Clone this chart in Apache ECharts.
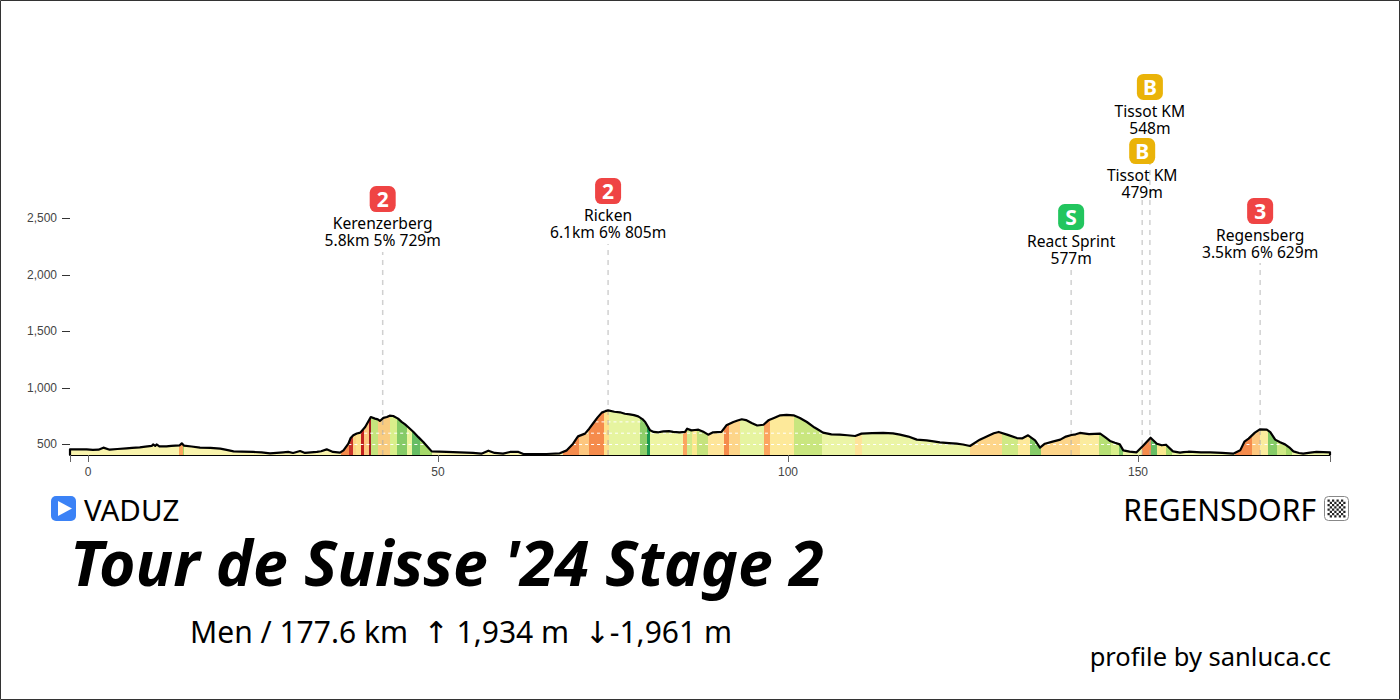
<!DOCTYPE html>
<html><head><meta charset="utf-8">
<style>html,body{margin:0;padding:0;background:#fff}#c{width:1400px;height:700px}</style>
<script src="https://cdn.jsdelivr.net/npm/echarts@6/dist/echarts.min.js"></script>
</head><body><div id="c"></div>
<script>
const profileKm = [-2.57,-2.57,-0.2,1.5,2.2,3.1,5.5,7.4,9.1,9.3,9.6,9.8,10.2,11.2,13.1,13.4,13.7,16,18.9,20.8,23.6,26,27.9,29.3,30.3,31,32.7,34.1,35,36,36.5,37.2,37.9,38.9,39.6,40,40.4,41,41.7,42.7,43.6,44.3,45.3,46.5,47.9,49.1,51.2,53.1,55,56.2,57.2,58.1,59.3,60.3,61.5,62.2,65.5,67.4,68.4,69.3,70,71,72.2,73.4,74.3,76,77.4,78.6,79.6,80.3,80.8,82.2,83.6,85.3,85.6,86.2,87.2,88.6,89.3,90.5,91.2,92.2,93.4,94.8,96.5,97.2,98.9,100.8,102.7,105,107.4,109.6,110.5,113.6,116,118.4,119.8,121.7,124.1,126,127.4,130.1,132.7,134.3,135.3,136,136.7,138.9,140.5,141.7,144.6,146,147.4,147.9,149.8,150.8,151.8,152.7,153.4,154,155,156,157.2,160.3,163.6,164.6,165.8,166.7,167.4,168.4,169.6,171,172.2,173.6,175.5,177.43,177.43];
const profileAlt = [407,457,457,454,472,454,466,475,487,501,487,501,484,484,493,510,490,472,463,439,434,422,431,425,442,425,434,457,434,428,448,507,581,605,655,699,743,729,708,743,752,729,678,611,522,439,434,431,425,419,445,425,419,434,434,416,416,422,448,507,572,596,690,782,802,785,767,749,699,625,611,616,611,611,640,625,631,587,608,611,670,699,723,690,675,714,758,758,699,605,587,575,596,602,587,543,537,519,507,487,543,611,557,581,537,472,507,543,584,602,596,531,501,448,431,493,560,507,493,498,439,428,436,431,419,448,552,605,634,631,543,501,439,419,434,431,407];
const detailKm = [0.7,4.2,6.3,8.2,11.9,14.8,17.5,19.8,22,24.8,28.6,33.3,37.5,38.4,41.4,42.2,43.1,44.8,45.8,47.2,48.5,69.7,71.6,72.8,73.9,75.2,76.7,78,79.2,81.5,83,84.5,86.7,88,92.8,94,95.6,98,99.8,101.7,103.8,104.4,106.2,108.5,112,115,117.2,120.8,123,125,128.7,129.4,131.4,133.5,137.8,139.7,141.1,143,145.3,146.7,148.8,156.5,159,162,165.2,168.9,170.3,171.6,173,174.6];
const detailAlt = [452,460,470,481,487,482,470,452,437,430,435,440,555,597,722,735,755,700,650,565,480,545,640,740,795,790,772,760,725,608,618,608,628,610,712,716,668,735,762,735,650,628,590,582,600,598,570,528,512,500,580,600,585,555,525,570,590,592,565,515,437,432,430,425,525,610,520,475,425,428];
const segmentEndKm = [13,13.5,13.7,36.1,37.3,37.8,38.3,39,39.4,40.1,40.4,41.5,43.1,44.1,45.6,46.3,47.4,49.1,67.9,70.1,71.6,73.7,74.4,78.9,79.9,80.3,85,85.6,86.3,87,88.6,90.8,91.6,93.2,96.5,97.4,100.8,104.8,109.6,110.5,126,130.5,132.9,134.6,136.1,141.7,144.4,146.1,147.3,147.9,150.5,151.8,152.7,154,154.8,163.9,166.3,167.4,168.6,169.9,171.2,172,177.43];
const segmentColors = ['#f9f4ad','#fca55d','#a6d96a','#f9f4ad','#f58b4c','#c8342a','#fdd385','#fee08b','#c2201f','#fdc77f','#a81c20','#c5e37d','#f9cc80','#d9ef8b','#85cb67','#eaf59b','#66bd63','#a6d96a','#f9f4ad','#f58b4c','#fdc77f','#f58b4c','#fee08b','#e6f4a0','#8fce6a','#1a9850','#eef5a3','#fba55f','#d2ea8a','#fbe88f','#c5e37d','#fee59a','#f58b4c','#fdd58a','#e6f4a0','#fba55f','#fde99a','#c9e67f','#ebf5a6','#fde39a','#ebf5a6','#fdd58a','#cfe985','#fde99a','#85cb67','#fdd58a','#fbec9e','#b7e075','#d9ef8b','#7fc866','#eef6a6','#f58b4c','#66bd63','#fbe88f','#a6d96a','#eef6a6','#f58b4c','#fdc77f','#fbec9e','#85cb67','#cfe985','#a6d96a','#eef6a6'];
const dashLevels = [500,500,500,500,600,600,700];
const dashFromKm = [37.2,69.3,152,165.5,38.6,71,72.5];
const dashToKm = [48,147.4,153.5,171,46.2,116,79.5];

const markerNames = ['Kerenzerberg','Ricken','React Sprint','Tissot KM','Tissot KM','Regensberg'];
const markerDetails = ['5.8km 5% 729m','6.1km 6% 805m','577m','479m','548m','3.5km 6% 629m'];
const markerBadges = ['2','2','S','B','B','3'];
const markerKm = [42.1,74.3,140.45,150.6,151.7,167.45];
const markerBadgeAlt = [2672,2743,2513,3097,3664,2566];
const markerLineTopAlt = [2203,2274,2062,2664,3212,2106];
const badgeColors = {'2':'#ef4444','3':'#ef4444','S':'#22c55e','B':'#eab308'};

const yTicks = [500,1000,1500,2000,2500];
const xLabels = [0,50,100,150];
const xMin = -2.57, xMax = 177.43, yMin = 407, yMax = 4000;

const FONT = '"Noto Sans","DejaVu Sans"';
const pts = profileKm.map((k,i)=>[k,profileAlt[i]]).concat(detailKm.map((k,i)=>[k,detailAlt[i]]))
  .map((p,i)=>[p,i]).sort((a,b)=>a[0][0]-b[0][0]||a[1]-b[1]).map(x=>x[0]);
const stops = [];
let prev = xMin;
segmentEndKm.forEach((e,i)=>{
  stops.push({offset:(prev-xMin)/(xMax-xMin),color:segmentColors[i]});
  stops.push({offset:(e-xMin)/(xMax-xMin),color:segmentColors[i]});
  prev = e;
});
const dashSeries = dashLevels.map((l,i)=>({
  type:'line',z:2,silent:true,symbol:'none',
  data:[[dashFromKm[i],l],[dashToKm[i],l]],
  lineStyle:{color:'#fff',width:1,type:[3,3]}
}));
const leaderSeries = markerKm.map((k,i)=>({
  type:'line',z:3,silent:true,symbol:'none',
  data:[[k,yMin],[k,markerLineTopAlt[i]]],
  lineStyle:{color:'rgba(170,170,170,0.55)',width:1.5,type:[5,5]}
}));
const checker = [];
for(let r=0;r<8;r++)for(let c=0;c<8;c++){ if((r+c)%2===0) checker.push({type:'rect',shape:{x:1327.5+c*2.25,y:499.5+r*2.25,width:2.25,height:2.25},style:{fill:'#222'},silent:true}); }

const chart = echarts.init(document.getElementById('c'),null,{renderer:'svg',width:1400,height:700});
chart.setOption({
  animation:false,
  backgroundColor:'#fff',
  grid:{left:70,right:70,top:49,bottom:245},
  xAxis:{type:'value',min:xMin,max:xMax,splitLine:{show:false},
    axisLine:{show:true,onZero:false,lineStyle:{color:'#000',width:2}},
    axisTick:{show:true,length:7,customValues:[xMin].concat(xLabels,[xMax]),lineStyle:{color:'#666',width:1}},
    axisLabel:{customValues:xLabels,margin:11,fontSize:12,color:'#444',fontFamily:'"Liberation Sans"',showMinLabel:true,showMaxLabel:true}},
  yAxis:{type:'value',min:yMin,max:yMax,splitLine:{show:false},
    axisLine:{show:false,onZero:false},
    axisTick:{show:true,length:8,customValues:yTicks,lineStyle:{color:'#333',width:1}},
    axisLabel:{customValues:yTicks,margin:13,fontSize:12,color:'#444',fontFamily:'"Liberation Sans"',formatter:v=>v.toLocaleString('en-US')}},
  series:[
    {type:'line',z:1,silent:true,symbol:'none',data:pts,lineStyle:{width:0},
     areaStyle:{opacity:1,origin:'start',color:new echarts.graphic.LinearGradient(0,0,1,0,stops)}},
    ...dashSeries,
    ...leaderSeries,
    {type:'line',z:4,silent:true,symbol:'none',data:pts,lineStyle:{color:'#000',width:2.2,join:'round'}},
    {type:'scatter',z:5,silent:true,symbol:'roundRect',symbolSize:26,
     data:markerKm.map((k,i)=>({value:[k,markerBadgeAlt[i]],itemStyle:{color:badgeColors[markerBadges[i]],opacity:1},
       label:{show:true,position:'inside',formatter:markerBadges[i],color:'#fff',fontSize:21,fontWeight:'bold',fontFamily:FONT}}))},
    {type:'scatter',z:6,silent:true,symbolSize:1,itemStyle:{color:'rgba(0,0,0,0)',opacity:1},
     data:markerKm.map((k,i)=>({value:[k,markerBadgeAlt[i]],
       label:{show:true,position:'inside',offset:[0,32.5],align:'center',lineHeight:17,fontSize:15.6,color:'#000',opacity:1,fontFamily:FONT,
         formatter:markerNames[i]+'\n'+markerDetails[i]}}))}
  ],
  graphic:{elements:[
    {type:'rect',silent:true,shape:{x:0.5,y:0.5,width:1399,height:699},style:{fill:'none',stroke:'#333',lineWidth:1}},
    {type:'rect',silent:true,shape:{x:51,y:496,width:25,height:25,r:5},style:{fill:'#3b82f6'}},
    {type:'polygon',silent:true,shape:{points:[[58,501],[58,516],[72,508.5]]},style:{fill:'#fff'}},
    {type:'text',silent:true,style:{text:'VADUZ',x:84,y:509,fontSize:29.5,fontFamily:FONT,fill:'#000',textAlign:'left',textVerticalAlign:'middle'}},
    {type:'text',silent:true,style:{text:'REGENSDORF',x:1316,y:509,fontSize:30,fontFamily:FONT,fill:'#000',textAlign:'right',textVerticalAlign:'middle'}},
    {type:'rect',silent:true,shape:{x:1324.5,y:496.5,width:24,height:24,r:4},style:{fill:'#fff',stroke:'#888',lineWidth:1}},
    ...checker,
    {type:'text',silent:true,style:{text:"Tour de Suisse '24 Stage 2",x:70,y:561,fontSize:62.5,fontFamily:FONT,fontWeight:'bold',fontStyle:'italic',fill:'#000',textAlign:'left',textVerticalAlign:'middle'}},
    {type:'text',silent:true,style:{text:'Men / 177.6 km  ↑ 1,934 m  ↓-1,961 m',x:190,y:631,fontSize:30,fontFamily:FONT,fill:'#000',textAlign:'left',textVerticalAlign:'middle'}},
    {type:'text',silent:true,style:{text:'profile by sanluca.cc',x:1331,y:656,fontSize:25.5,fontFamily:FONT,fill:'#000',textAlign:'right',textVerticalAlign:'middle'}}
  ]}
});
</script></body></html>
